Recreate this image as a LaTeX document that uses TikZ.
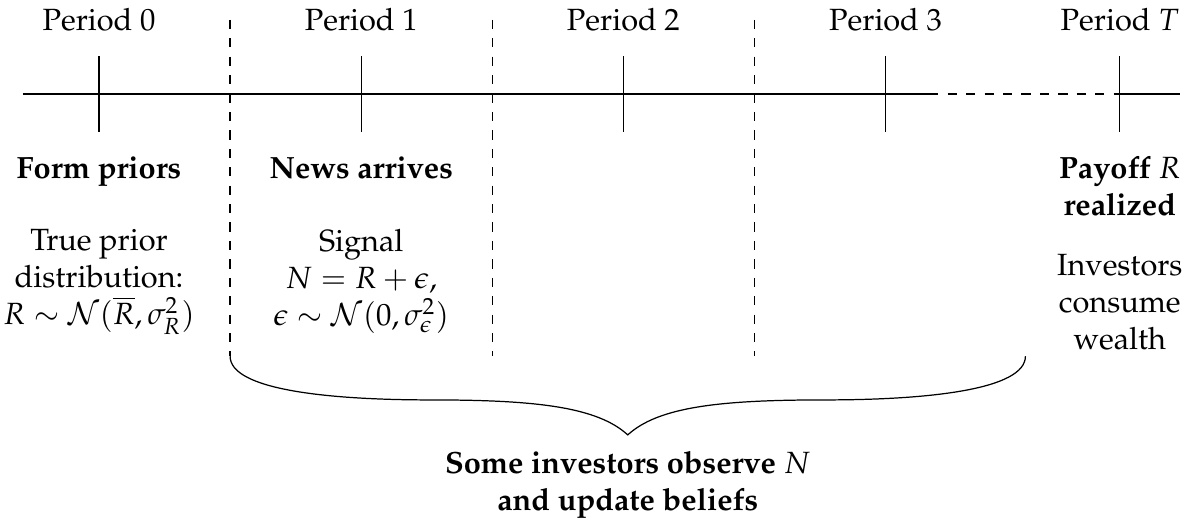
\documentclass[tikz,border=0pt]{standalone}
\usepackage[T1]{fontenc}
\usepackage{amsmath,amssymb}
\usepackage{mathpazo}
\usetikzlibrary{positioning,calc}
\tikzset{
  timeline/.style={thin,draw=black},
  tickmark/.style={thin,draw=black},
  divider/.style={thin,dashed,draw=black},
  periodlabel/.style={inner sep=2pt},
  heading/.style={font=\bfseries,align=center,anchor=north,inner sep=2pt},
  desc/.style={align=center,anchor=north,inner sep=2pt},
  bracecurve/.style={thin,draw=black},
  bottomnote/.style={font=\bfseries,align=center,anchor=south,inner sep=2pt}
}

\begin{document}
\begin{tikzpicture}[x=1cm,y=1cm]
\useasboundingbox (-1.133,1.076) rectangle (12.449,-4.954);
\coordinate (L) at (-0.87,0);
\coordinate (P0) at (0,0);
\coordinate (P1) at (3,0);
\coordinate (P2) at (6,0);
\coordinate (P3) at (9,0);
\coordinate (D) at (9.5,0);
\coordinate (PT) at (11.68,0);
\coordinate (R) at (12.37,0);

% time line
\draw[timeline] (L) -- (D);
\draw[timeline,dashed] (D) -- (PT);
\draw[timeline] (PT) -- (R);
\foreach \p in {P0,P1,P2,P3,PT}
  \draw[tickmark] ($(\p)+(0,0.43)$) -- ($(\p)+(0,-0.43)$);

% period separators
\foreach \x/\n in {1.5/A,4.5/B,7.5/C}{
  \coordinate (top\n) at (\x,0.85);
  \coordinate (bot\n) at (\x,-3.0);
  \draw[divider] (top\n) -- (bot\n);
}

% period labels
\node[periodlabel] (lab0) at (0,0.85) {Period 0};
\node[periodlabel] (lab1) at (3,0.85) {Period 1};
\node[periodlabel] (lab2) at (6,0.85) {Period 2};
\node[periodlabel] (lab3) at (9,0.85) {Period 3};
\node[periodlabel] (labT) at (11.68,0.85) {Period $T$};

% events
\node[heading] (head0) at (0,-0.64) {Form priors};
\node[heading] (head1) at (3,-0.64) {News arrives};
\node[heading] (headT) at (11.68,-0.64) {Payoff $R$\\realized};

\node[desc] (desc0) at (0,-1.47) {True prior\\distribution:\\$R\sim\mathcal{N}(\overline{R},\sigma_R^2)$};
\node[desc] (desc1) at (3,-1.47) {Signal\\$N=R+\epsilon$,\\$\epsilon\sim\mathcal{N}(0,\sigma_\epsilon^2)$};
\node[desc] (descT) at (11.68,-1.76) {Investors\\consume\\wealth};

% brace
\coordinate (BL) at (1.5,-3.0);
\coordinate (BR) at (10.6,-3.0);
\coordinate (tip) at (6.05,-3.9);
\draw[bracecurve] (BL) .. controls (1.5,-3.38) and (2.6,-3.5) .. (3.8,-3.5)
  .. controls (5.0,-3.5) and (5.7,-3.58) .. (tip)
  .. controls (6.4,-3.58) and (7.1,-3.5) .. (8.3,-3.5)
  .. controls (9.5,-3.5) and (10.6,-3.38) .. (BR);

\node[bottomnote] (note) at (6.05,-4.93) {Some investors observe $N$\\and update beliefs};
\end{tikzpicture}
\end{document}
